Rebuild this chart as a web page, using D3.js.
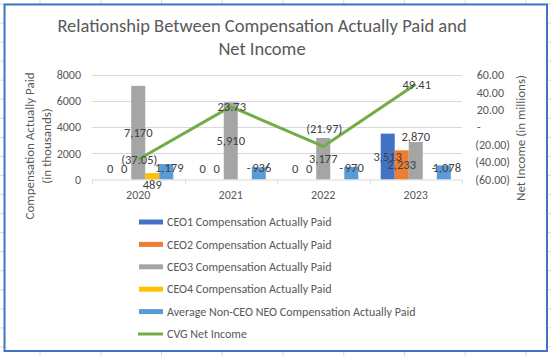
<!DOCTYPE html>
<html>
<head>
<meta charset="utf-8">
<script src="https://cdn.jsdelivr.net/npm/d3@7"></script>
<style>
  html, body { margin: 0; padding: 0; background: #fff; }
  svg { display: block; }
  text { font-family: "Carlito", "Calibri", "Liberation Sans Narrow", "Open Sans", sans-serif; fill: #595959; }
</style>
</head>
<body>
<script>
// ---------- data ----------
const years = ["2020", "2021", "2022", "2023"];
const seriesNames = [
  "CEO1 Compensation Actually Paid",
  "CEO2 Compensation Actually Paid",
  "CEO3 Compensation Actually Paid",
  "CEO4 Compensation Actually Paid",
  "Average Non-CEO NEO Compensation Actually Paid"
];
const ceo1 = [0, 0, 0, 3513];
const ceo2 = [0, 0, 0, 2233];
const ceo3 = [7170, 5910, 3177, 2870];
const ceo4 = [489, 0, 0, 0];
const avgNeo = [1179, 936, 970, 1078];
const netIncome = [-37.05, 23.73, -21.97, 49.41];
const lineName = "CVG Net Income";
const leftTicks = [0, 2000, 4000, 6000, 8000];
const rightTicks = [-60, -40, -20, 0, 20, 40, 60];
const colors = ["#4472C4", "#ED7D31", "#A5A5A5", "#FFC000", "#5B9BD5"];
const lineColor = "#70AD47";

const seriesValues = [ceo1, ceo2, ceo3, ceo4, avgNeo];

// ---------- setup ----------
const W = 551, H = 356;
const svg = d3.select("body").append("svg").attr("width", W).attr("height", H);

// spreadsheet background grid
const bg = svg.append("g");
d3.range(0, 10).forEach(k => {
  const x = 40 + 60.75 * k;
  bg.append("line").attr("x1", x).attr("x2", x).attr("y1", 0).attr("y2", H)
    .attr("stroke", "#DADADA").attr("stroke-width", 1);
});
d3.range(0, 20).forEach(k => {
  const y = 4 + 19.05 * k;
  bg.append("line").attr("x1", 0).attr("x2", W).attr("y1", y).attr("y2", y)
    .attr("stroke", "#DADADA").attr("stroke-width", 1);
});

// chart frame
svg.append("rect").attr("x", 4.5).attr("y", 4.5).attr("width", 542.5).attr("height", 346.5)
  .attr("fill", "#fff").attr("stroke", "#4472C4").attr("stroke-width", 2);

// title
const title = svg.append("text").attr("text-anchor", "middle").style("font-size", "18.5px");
title.append("tspan").attr("x", 262).attr("y", 32).text("Relationship Between Compensation Actually Paid and");
title.append("tspan").attr("x", 262).attr("y", 55).text("Net Income");

// scales
const plotL = 92, plotR = 462, yTop = 75, yBot = 179.5;
const x0 = d3.scaleBand().domain(years).range([plotL, plotR]).padding(0);
const x1 = d3.scaleBand().domain(d3.range(seriesNames.length)).range([0, x0.bandwidth()])
  .paddingInner(0).paddingOuter(0.8);
const yL = d3.scaleLinear().domain([0, 8000]).range([yBot, yTop]);
const yR = d3.scaleLinear().domain([-60, 60]).range([yBot, yTop]);

// gridlines
svg.append("g").selectAll("line").data(leftTicks.filter(d => d !== 0)).join("line")
  .attr("x1", plotL).attr("x2", plotR)
  .attr("y1", d => Math.round(yL(d)) + 0.5).attr("y2", d => Math.round(yL(d)) + 0.5)
  .attr("stroke", "#D9D9D9").attr("stroke-width", 1);

// left axis labels
svg.append("g").selectAll("text").data(leftTicks).join("text")
  .attr("x", 81).attr("y", d => yL(d)).attr("dy", "0.35em")
  .attr("text-anchor", "end").style("font-size", "12px").text(d => String(d));

// right axis labels
const fmtAcc = v => v === 0 ? "-" : (v < 0 ? "(" + d3.format(".2f")(-v) + ")" : d3.format(".2f")(v));
svg.append("g").selectAll("text").data(rightTicks).join("text")
  .attr("x", d => d < 0 ? 510 : (d === 0 ? 477 : 504))
  .attr("y", d => yR(d)).attr("dy", "0.35em")
  .attr("text-anchor", d => d === 0 ? "start" : "end").style("font-size", "12px").text(fmtAcc);

// axis titles
const lt = svg.append("text").attr("transform", `translate(30,146) rotate(-90)`)
  .attr("text-anchor", "middle").style("font-size", "13px");
lt.append("tspan").attr("x", 0).attr("y", 4).text("Compensation Actually Paid");
lt.append("tspan").attr("x", 0).attr("y", 21).text("(in thousands)");
svg.append("text").attr("transform", `translate(525,138) rotate(-90)`)
  .attr("text-anchor", "middle").style("font-size", "13px").text("Net Income (in millions)");

// bars
const groups = svg.append("g").selectAll("g").data(years).join("g")
  .attr("transform", d => `translate(${x0(d)},0)`);
groups.selectAll("rect").data((d, i) => seriesValues.map((s, j) => ({ j, v: s[i] }))).join("rect")
  .attr("x", d => x1(d.j)).attr("width", x1.bandwidth())
  .attr("y", d => yL(d.v)).attr("height", d => yL(0) - yL(d.v))
  .attr("fill", d => colors[d.j]);

// x axis line and ticks
svg.append("line").attr("x1", plotL).attr("x2", plotR).attr("y1", yBot + 0.5).attr("y2", yBot + 0.5)
  .attr("stroke", "#D9D9D9");
svg.append("g").selectAll("line").data(d3.range(years.length + 1)).join("line")
  .attr("x1", i => Math.round(plotL + i * x0.step()) + 0.5).attr("x2", i => Math.round(plotL + i * x0.step()) + 0.5)
  .attr("y1", yBot).attr("y2", yBot + 4).attr("stroke", "#D9D9D9");
svg.append("g").selectAll("text").data(years).join("text")
  .attr("x", d => x0(d) + x0.bandwidth() / 2).attr("y", 195).attr("dy", "0.35em")
  .attr("text-anchor", "middle").style("font-size", "12px").text(d => d);

// bar labels
const barLabels = [];
years.forEach((yr, i) => {
  seriesValues.forEach((s, j) => {
    const v = s[i];
    const cx = x0(yr) + x1(j) + x1.bandwidth() / 2;
    let text, lx = cx, ly;
    if (v === 0) {
      if (j === 3) { text = "-"; lx = cx + 4; ly = yL(0) - 12; }
      else { text = "0"; ly = yL(0) - 11; }
    } else {
      text = d3.format(",")(v);
      if (j === 3) ly = yL(0) + 5;                 // small CEO4 bar: label below
      else if (j === 4) { ly = yL(0) - 12; lx = cx + 3; }
      else if (j === 2 && i === 3) ly = yL(v) - 5; // outside end
      else ly = yL(v / 2);
    }
    barLabels.push({ text, x: lx, y: ly });
  });
});
svg.append("g").selectAll("text").data(barLabels).join("text")
  .attr("x", d => d.x).attr("y", d => d.y).attr("dy", "0.35em")
  .attr("text-anchor", "middle").style("font-size", "12.5px").style("fill", "#404040").text(d => d.text);

// line
const line = d3.line().x((d, i) => x0(years[i]) + x0.bandwidth() / 2).y(d => yR(d));
svg.append("path").datum(netIncome).attr("d", line)
  .attr("fill", "none").attr("stroke", lineColor).attr("stroke-width", 3).attr("stroke-linejoin", "round");
svg.append("g").selectAll("text").data(netIncome).join("text")
  .attr("x", (d, i) => x0(years[i]) + x0.bandwidth() / 2 + 1)
  .attr("y", (d, i) => yR(d) + (i === 2 ? -18 : 0)).attr("dy", "0.35em")
  .attr("text-anchor", "middle").style("font-size", "12.5px").style("fill", "#404040").text(fmtAcc);

// legend
const lg = svg.append("g");
const legendItems = seriesNames.map((n, j) => ({ n, c: colors[j], type: "bar" }))
  .concat([{ n: lineName, c: lineColor, type: "line" }]);
legendItems.forEach((d, k) => {
  const y = 222 + k * 22.4;
  if (d.type === "bar") {
    lg.append("rect").attr("x", 139).attr("y", y - 2.5).attr("width", 24).attr("height", 5).attr("fill", d.c);
  } else {
    lg.append("line").attr("x1", 138).attr("x2", 163).attr("y1", y).attr("y2", y)
      .attr("stroke", d.c).attr("stroke-width", 3);
  }
  lg.append("text").attr("x", 167).attr("y", y).attr("dy", "0.35em").style("font-size", "12px").text(d.n);
});
</script>
</body>
</html>
